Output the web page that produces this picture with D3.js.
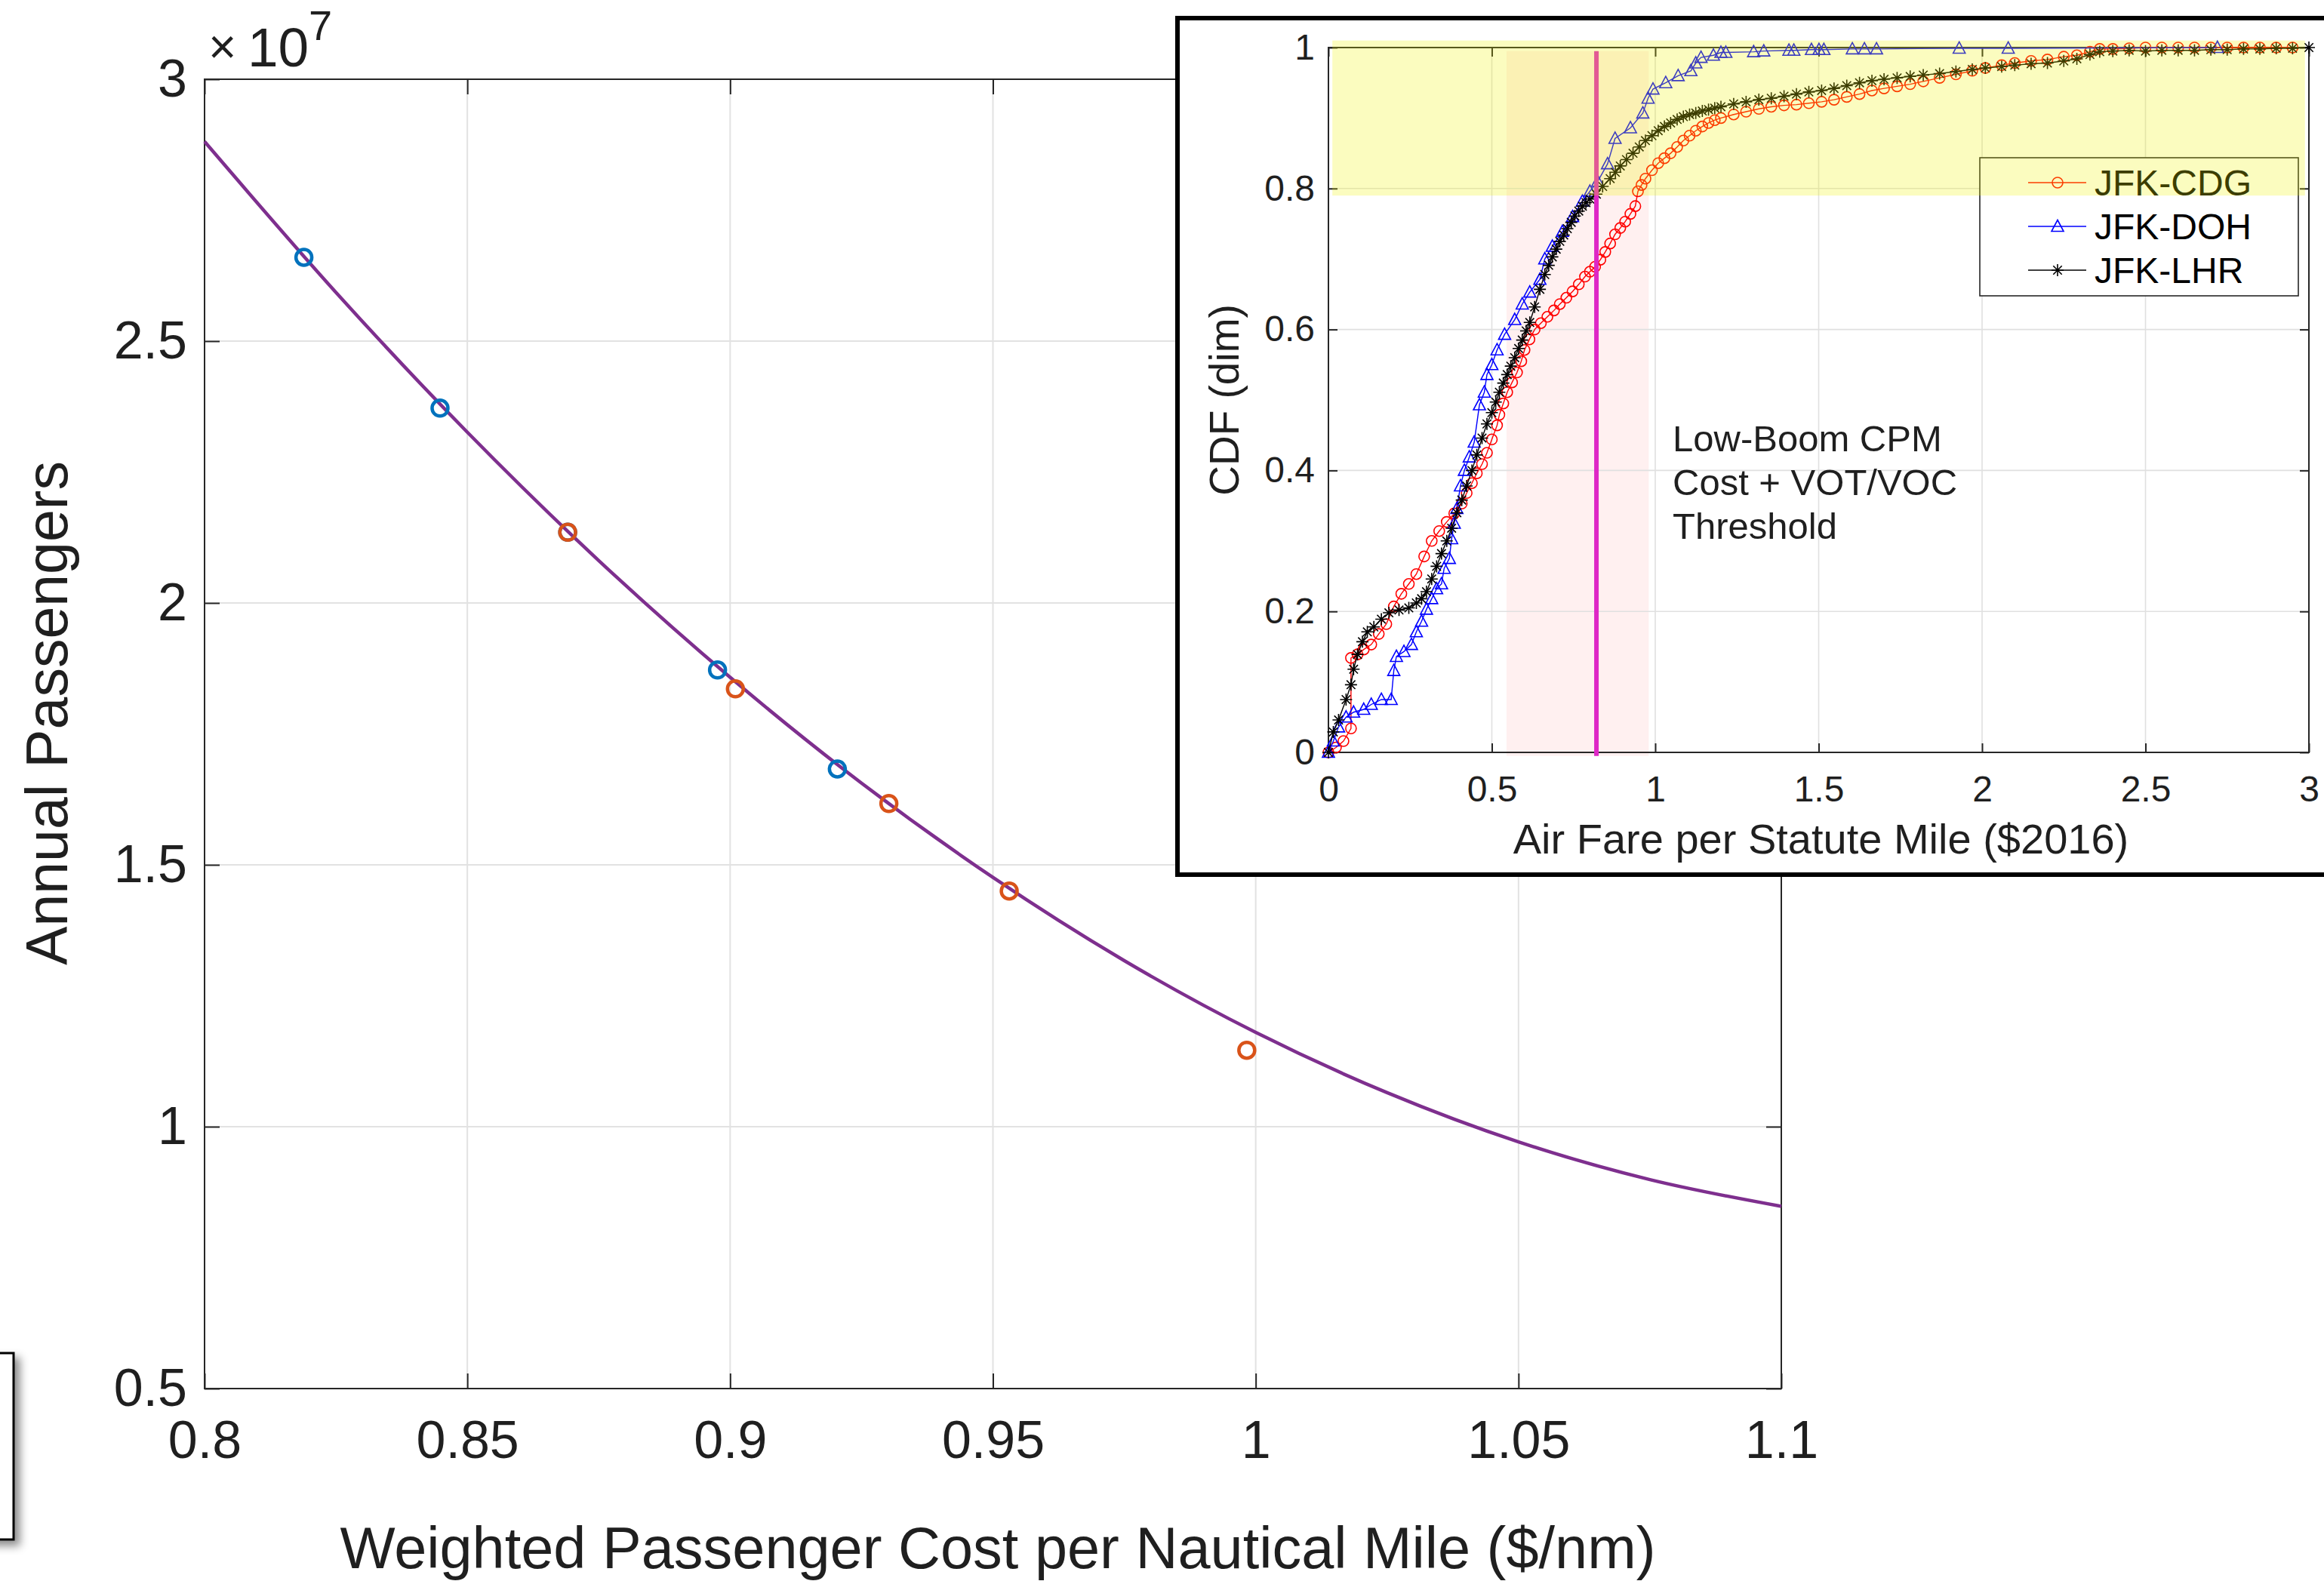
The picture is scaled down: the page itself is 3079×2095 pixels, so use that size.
<!DOCTYPE html>
<html>
<head>
<meta charset="utf-8">
<script src="https://cdn.jsdelivr.net/npm/d3@7"></script>
<style>
  html, body { margin: 0; padding: 0; background: #fff; }
  svg { display: block; }
  text { font-family: "Liberation Sans", Arial, Helvetica, sans-serif; }
</style>
</head>
<body>
<svg id="chart" width="3079" height="2095"></svg>
<script>
// ---------------- Main chart: demand curve ----------------
const costTicks = [0.8, 0.85, 0.9, 0.95, 1, 1.05, 1.1];
const costTickLabels = ["0.8", "0.85", "0.9", "0.95", "1", "1.05", "1.1"];
const paxTicks = [0.5e7, 1e7, 1.5e7, 2e7, 2.5e7, 3e7];
const paxTickLabels = ["0.5", "1", "1.5", "2", "2.5", "3"];

// fitted demand curve (cost $/nm, annual passengers)
const fitCost = [0.8, 0.825, 0.85, 0.875, 0.9, 0.925, 0.95, 0.975, 1.0, 1.025, 1.05, 1.075, 1.1];
const fitPax  = [2.881e7, 2.593e7, 2.326e7, 2.081e7, 1.858e7, 1.656e7, 1.476e7, 1.317e7, 1.180e7, 1.065e7, 0.971e7, 0.899e7, 0.848e7];

// design points
const blueCost = [0.8189, 0.8448, 0.8691, 0.8976, 0.9204];
const bluePax  = [2.660e7, 2.372e7, 2.135e7, 1.872e7, 1.683e7];
const orangeCost = [0.8691, 0.9010, 0.9302, 0.9531, 0.9983];
const orangePax  = [2.135e7, 1.836e7, 1.617e7, 1.450e7, 1.146e7];

// ---------------- Inset: air fare CDFs ----------------
const fareTicks = [0, 0.5, 1, 1.5, 2, 2.5, 3];
const fareTickLabels = ["0", "0.5", "1", "1.5", "2", "2.5", "3"];
const cdfTicks = [0, 0.2, 0.4, 0.6, 0.8, 1];
const cdfTickLabels = ["0", "0.2", "0.4", "0.6", "0.8", "1"];

const routeNames = ["JFK-CDG", "JFK-DOH", "JFK-LHR"];

// [fare per statute mile, CDF]
const cdgCdf = [
  [0,0],[0.023,0.007],[0.046,0.016],[0.069,0.034],[0.069,0.134],[0.089,0.139],[0.108,0.146],
  [0.131,0.153],[0.154,0.168],[0.177,0.182],[0.200,0.207],[0.223,0.225],[0.246,0.239],
  [0.269,0.253],[0.293,0.278],[0.316,0.300],[0.339,0.314],[0.362,0.327],[0.385,0.339],
  [0.408,0.353],[0.423,0.368],[0.439,0.382],[0.454,0.396],[0.470,0.409],[0.485,0.425],
  [0.500,0.444],[0.516,0.464],[0.523,0.479],[0.535,0.495],[0.547,0.511],[0.562,0.525],
  [0.577,0.539],[0.590,0.555],[0.600,0.571],[0.615,0.586],[0.631,0.600],[0.650,0.609],
  [0.670,0.618],[0.690,0.627],[0.708,0.636],[0.728,0.645],[0.747,0.654],[0.766,0.664],
  [0.785,0.675],[0.800,0.682],[0.816,0.689],[0.832,0.699],[0.847,0.710],[0.862,0.722],
  [0.877,0.735],[0.893,0.744],[0.908,0.753],[0.924,0.764],[0.939,0.775],[0.947,0.796],
  [0.958,0.805],[0.970,0.814],[0.990,0.826],[1.009,0.836],[1.028,0.843],[1.047,0.850],
  [1.067,0.859],[1.086,0.868],[1.105,0.875],[1.124,0.882],[1.144,0.888],[1.163,0.893],
  [1.182,0.897],[1.201,0.900],[1.240,0.905],[1.278,0.909],[1.317,0.913],[1.355,0.916],
  [1.394,0.918],[1.432,0.919],[1.470,0.921],[1.509,0.923],[1.547,0.926],[1.586,0.930],
  [1.625,0.934],[1.663,0.939],[1.700,0.942],[1.740,0.945],[1.780,0.948],[1.820,0.952],
  [1.870,0.957],[1.920,0.962],[1.970,0.967],[2.010,0.971],[2.060,0.975],[2.100,0.978],
  [2.150,0.981],[2.200,0.983],[2.250,0.987],[2.290,0.989],[2.330,0.994],[2.360,0.998],
  [2.400,0.998],[2.450,0.999],[2.500,1.000],[2.550,1.000],[2.600,1.000],[2.650,1.000],
  [2.700,1.000],[2.750,1.000],[2.800,1.000],[2.850,1.000],[2.900,1.000],[2.950,1.000]
];
const dohCdf = [
  [0,0],[0.015,0.016],[0.031,0.036],[0.054,0.050],[0.077,0.057],[0.108,0.061],[0.131,0.068],
  [0.162,0.075],[0.192,0.075],[0.200,0.116],[0.208,0.136],[0.231,0.143],[0.254,0.153],
  [0.269,0.171],[0.285,0.186],[0.300,0.203],[0.316,0.218],[0.331,0.232],[0.346,0.239],
  [0.354,0.261],[0.370,0.275],[0.377,0.303],[0.385,0.325],[0.393,0.346],[0.404,0.378],
  [0.416,0.400],[0.431,0.419],[0.446,0.440],[0.462,0.493],[0.477,0.511],[0.485,0.536],
  [0.500,0.550],[0.516,0.571],[0.539,0.593],[0.570,0.614],[0.593,0.636],[0.616,0.653],
  [0.647,0.671],[0.662,0.700],[0.685,0.718],[0.716,0.739],[0.747,0.760],[0.777,0.782],
  [0.800,0.796],[0.824,0.810],[0.854,0.835],[0.877,0.871],[0.924,0.886],[0.962,0.907],
  [0.978,0.928],[0.993,0.941],[1.032,0.950],[1.070,0.960],[1.109,0.967],[1.124,0.978],
  [1.140,0.986],[1.178,0.989],[1.201,0.993],[1.216,0.993],[1.301,0.994],[1.332,0.995],
  [1.409,0.996],[1.424,0.996],[1.478,0.997],[1.501,0.997],[1.516,0.997],[1.603,0.998],
  [1.640,0.998],[1.677,0.998],[1.930,0.999],[2.080,0.999],[2.720,1.000]
];
const lhrCdf = [
  [0,0],[0.015,0.029],[0.031,0.046],[0.054,0.075],[0.069,0.096],[0.077,0.118],[0.089,0.139],
  [0.104,0.157],[0.119,0.171],[0.139,0.178],[0.162,0.189],[0.185,0.198],[0.216,0.202],
  [0.246,0.205],[0.269,0.212],[0.285,0.218],[0.300,0.228],[0.316,0.246],[0.331,0.264],
  [0.346,0.282],[0.362,0.300],[0.377,0.318],[0.393,0.340],[0.408,0.358],[0.423,0.378],
  [0.439,0.400],[0.454,0.422],[0.470,0.446],[0.485,0.466],[0.500,0.482],[0.512,0.497],
  [0.523,0.511],[0.535,0.524],[0.547,0.536],[0.558,0.548],[0.570,0.560],[0.582,0.573],
  [0.593,0.585],[0.605,0.598],[0.616,0.610],[0.631,0.632],[0.647,0.657],[0.662,0.678],
  [0.674,0.691],[0.685,0.703],[0.697,0.714],[0.708,0.725],[0.720,0.734],[0.731,0.743],
  [0.743,0.752],[0.754,0.761],[0.766,0.768],[0.777,0.775],[0.788,0.780],[0.800,0.785],
  [0.820,0.792],[0.839,0.803],[0.862,0.814],[0.878,0.823],[0.893,0.832],[0.912,0.841],
  [0.932,0.850],[0.951,0.859],[0.970,0.868],[0.990,0.875],[1.009,0.882],[1.028,0.888],
  [1.047,0.893],[1.067,0.898],[1.086,0.902],[1.105,0.905],[1.124,0.907],[1.144,0.910],
  [1.163,0.912],[1.182,0.914],[1.201,0.916],[1.240,0.920],[1.278,0.923],[1.317,0.926],
  [1.355,0.928],[1.394,0.931],[1.432,0.934],[1.470,0.937],[1.509,0.939],[1.547,0.942],
  [1.586,0.946],[1.625,0.950],[1.663,0.953],[1.700,0.955],[1.740,0.957],[1.780,0.959],
  [1.820,0.961],[1.870,0.963],[1.920,0.966],[1.970,0.969],[2.010,0.971],[2.060,0.973],
  [2.100,0.975],[2.150,0.977],[2.200,0.978],[2.250,0.981],[2.290,0.984],[2.330,0.990],
  [2.360,0.994],[2.400,0.995],[2.450,0.996],[2.500,0.995],[2.550,0.996],[2.600,0.996],
  [2.650,0.996],[2.700,0.997],[2.750,0.997],[2.800,0.998],[2.850,0.998],[2.900,0.999],
  [2.950,0.999],[3.000,1.000]
];

// shaded regions and threshold
const fareBand = [0.545, 0.98];      // pink fare band
const fareBandCdf = [-0.005, 0.995];
const cdfBand = [0.79, 1.01];        // yellow upper-CDF band
const cdfBandFare = [0.012, 2.988];
const thresholdFare = 0.82;
const thresholdLines = ["Low-Boom CPM", "Cost + VOT/VOC", "Threshold"];

// ---------------- drawing ----------------
const FONT = '"Liberation Sans", Arial, Helvetica, sans-serif';
const INK = "#262626";
const svg = d3.select("#chart");
svg.append("rect").attr("width", 3079).attr("height", 2095).attr("fill", "#fff");

const defs = svg.append("defs");
const shadow = defs.append("filter").attr("id", "shadow")
  .attr("x", "-50%").attr("y", "-20%").attr("width", "250%").attr("height", "140%");
shadow.append("feDropShadow").attr("dx", 7).attr("dy", 7).attr("stdDeviation", 6)
  .attr("flood-color", "#000").attr("flood-opacity", 0.45);

// partly visible frame at lower left
svg.append("rect").attr("x", -20).attr("y", 1793).attr("width", 38).attr("height", 247)
  .attr("fill", "#fff").attr("stroke", "#000").attr("stroke-width", 3).attr("filter", "url(#shadow)");

function styleAxis(g, size) {
  g.attr("font-family", FONT).attr("font-size", size);
  g.select(".domain").remove();
  g.selectAll(".tick line").attr("stroke", INK).attr("stroke-width", 2);
  g.selectAll(".tick text").attr("fill", "#1f1f1f");
}

// ----- main axes -----
const M = { left: 271, right: 2360, top: 105, bottom: 1840 };
const x = d3.scaleLinear().domain([0.8, 1.1]).range([M.left, M.right]);
const y = d3.scaleLinear().domain([0.5e7, 3e7]).range([M.bottom, M.top]);
const main = svg.append("g");

main.append("g").selectAll("line").data(costTicks.slice(1, -1)).join("line")
  .attr("x1", d => x(d)).attr("x2", d => x(d)).attr("y1", M.top).attr("y2", M.bottom)
  .attr("stroke", "#e2e2e2").attr("stroke-width", 2);
main.append("g").selectAll("line").data(paxTicks.slice(1, -1)).join("line")
  .attr("y1", d => y(d)).attr("y2", d => y(d)).attr("x1", M.left).attr("x2", M.right)
  .attr("stroke", "#e2e2e2").attr("stroke-width", 2);

main.append("g").attr("transform", `translate(0,${M.bottom})`)
  .call(d3.axisBottom(x).tickValues(costTicks).tickFormat((d, i) => costTickLabels[i])
    .tickSizeInner(-20).tickSizeOuter(0).tickPadding(42))
  .call(styleAxis, 70);
main.append("g").attr("transform", `translate(0,${M.top})`)
  .call(d3.axisTop(x).tickValues(costTicks).tickFormat("").tickSizeInner(-20).tickSizeOuter(0))
  .call(styleAxis, 70);
main.append("g").attr("transform", `translate(${M.left},0)`)
  .call(d3.axisLeft(y).tickValues(paxTicks).tickFormat((d, i) => paxTickLabels[i])
    .tickSizeInner(-20).tickSizeOuter(0).tickPadding(23))
  .call(styleAxis, 70);
main.append("g").attr("transform", `translate(${M.right},0)`)
  .call(d3.axisRight(y).tickValues(paxTicks).tickFormat("").tickSizeInner(-20).tickSizeOuter(0))
  .call(styleAxis, 70);
main.append("rect").attr("x", M.left).attr("y", M.top)
  .attr("width", M.right - M.left).attr("height", M.bottom - M.top)
  .attr("fill", "none").attr("stroke", INK).attr("stroke-width", 2);

const fitLine = d3.line().x(d => x(d[0])).y(d => y(d[1])).curve(d3.curveMonotoneX);
main.append("path").datum(fitCost.map((c, i) => [c, fitPax[i]]))
  .attr("d", fitLine).attr("fill", "none").attr("stroke", "#7E2F8E").attr("stroke-width", 4.5);

main.append("g").selectAll("circle").data(blueCost.map((c, i) => [c, bluePax[i]])).join("circle")
  .attr("cx", d => x(d[0])).attr("cy", d => y(d[1])).attr("r", 10.5)
  .attr("fill", "none").attr("stroke", "#0072BD").attr("stroke-width", 4.5);
main.append("g").selectAll("circle").data(orangeCost.map((c, i) => [c, orangePax[i]])).join("circle")
  .attr("cx", d => x(d[0])).attr("cy", d => y(d[1])).attr("r", 10.5)
  .attr("fill", "none").attr("stroke", "#D95319").attr("stroke-width", 4.5);

// exponent label
main.append("text").attr("x", 276).attr("y", 84).attr("font-size", 64).attr("fill", "#1f1f1f")
  .text("\u00d7");
main.append("text").attr("x", 328).attr("y", 88).attr("font-size", 73).attr("fill", "#1f1f1f")
  .text("10");
main.append("text").attr("x", 409).attr("y", 53).attr("font-size", 56).attr("fill", "#1f1f1f")
  .text("7");

main.append("text").attr("x", 1322).attr("y", 2078).attr("text-anchor", "middle")
  .attr("font-size", 77.5).attr("fill", "#1f1f1f")
  .text("Weighted Passenger Cost per Nautical Mile ($/nm)");
main.append("text").attr("transform", "translate(89,945) rotate(-90)").attr("text-anchor", "middle")
  .attr("font-size", 77).attr("fill", "#1f1f1f").text("Annual Passengers");

// ----- inset -----
const I = { left: 1760, right: 3059, top: 63, bottom: 997 };
const xi = d3.scaleLinear().domain([0, 3]).range([I.left, I.right]);
const yi = d3.scaleLinear().domain([0, 1]).range([I.bottom, I.top]);
const inset = svg.append("g");

inset.append("rect").attr("x", 1560).attr("y", 24).attr("width", 1600).attr("height", 1135)
  .attr("fill", "#fff").attr("stroke", "#000").attr("stroke-width", 6);

inset.append("rect")
  .attr("x", xi(fareBand[0])).attr("width", xi(fareBand[1]) - xi(fareBand[0]))
  .attr("y", yi(fareBandCdf[1])).attr("height", yi(fareBandCdf[0]) - yi(fareBandCdf[1]))
  .attr("fill", "#ff0000").attr("fill-opacity", 0.06);

inset.append("g").selectAll("line").data(fareTicks.slice(1, -1)).join("line")
  .attr("x1", d => xi(d)).attr("x2", d => xi(d)).attr("y1", I.top).attr("y2", I.bottom)
  .attr("stroke", "#e0e0e0").attr("stroke-width", 1.6);
inset.append("g").selectAll("line").data(cdfTicks.slice(1, -1)).join("line")
  .attr("y1", d => yi(d)).attr("y2", d => yi(d)).attr("x1", I.left).attr("x2", I.right)
  .attr("stroke", "#e0e0e0").attr("stroke-width", 1.6);

inset.append("g").attr("transform", `translate(0,${I.bottom})`)
  .call(d3.axisBottom(xi).tickValues(fareTicks).tickFormat((d, i) => fareTickLabels[i])
    .tickSizeInner(-12).tickSizeOuter(0).tickPadding(31))
  .call(styleAxis, 48);
inset.append("g").attr("transform", `translate(0,${I.top})`)
  .call(d3.axisTop(xi).tickValues(fareTicks).tickFormat("").tickSizeInner(-12).tickSizeOuter(0))
  .call(styleAxis, 48);
inset.append("g").attr("transform", `translate(${I.left},0)`)
  .call(d3.axisLeft(yi).tickValues(cdfTicks).tickFormat((d, i) => cdfTickLabels[i])
    .tickSizeInner(-12).tickSizeOuter(0).tickPadding(18))
  .call(styleAxis, 48);
inset.append("g").attr("transform", `translate(${I.right},0)`)
  .call(d3.axisRight(yi).tickValues(cdfTicks).tickFormat("").tickSizeInner(-12).tickSizeOuter(0))
  .call(styleAxis, 48);
inset.append("rect").attr("x", I.left).attr("y", I.top)
  .attr("width", I.right - I.left).attr("height", I.bottom - I.top)
  .attr("fill", "none").attr("stroke", INK).attr("stroke-width", 2);

// marker shapes
const markerPath = {
  circle: "M7,0A7,7 0 1,1 -7,0A7,7 0 1,1 7,0Z",
  triangle: "M0,-8.5L8,6.5L-8,6.5Z",
  star: "M0,-8L0,8M-8,0L8,0M-5.7,-5.7L5.7,5.7M-5.7,5.7L5.7,-5.7"
};
const series = [
  { name: routeNames[0], data: cdgCdf, color: "#ff0000", marker: "circle" },
  { name: routeNames[1], data: dohCdf, color: "#0000ff", marker: "triangle" },
  { name: routeNames[2], data: lhrCdf, color: "#000000", marker: "star" }
];
const cdfLine = d3.line().x(d => xi(d[0])).y(d => yi(d[1]));
series.forEach(s => {
  const g = inset.append("g");
  g.append("path").datum(s.data).attr("d", cdfLine)
    .attr("fill", "none").attr("stroke", s.color).attr("stroke-width", 1.4);
  g.selectAll("path.m").data(s.data).join("path").attr("class", "m")
    .attr("transform", d => `translate(${xi(d[0])},${yi(d[1])})`)
    .attr("d", markerPath[s.marker])
    .attr("fill", "none").attr("stroke", s.color).attr("stroke-width", 1.6);
});

// threshold line
inset.append("line")
  .attr("x1", xi(thresholdFare)).attr("x2", xi(thresholdFare))
  .attr("y1", yi(fareBandCdf[1])).attr("y2", yi(fareBandCdf[0]))
  .attr("stroke", "#DE27C6").attr("stroke-width", 6);

inset.append("text").attr("x", 2216).attr("y", 598).attr("font-size", 49).attr("fill", "#1f1f1f")
  .selectAll("tspan").data(thresholdLines).join("tspan")
  .attr("x", 2216).attr("dy", (d, i) => i === 0 ? 0 : 58).text(d => d);

// legend
const L = { x: 2623, y: 209, w: 422, h: 183 };
const lg = inset.append("g");
lg.append("rect").attr("x", L.x).attr("y", L.y).attr("width", L.w).attr("height", L.h)
  .attr("fill", "#fff").attr("stroke", INK).attr("stroke-width", 1.6);
series.forEach((s, i) => {
  const cy = 242 + i * 58;
  lg.append("line").attr("x1", 2687).attr("x2", 2764).attr("y1", cy).attr("y2", cy)
    .attr("stroke", s.color).attr("stroke-width", 1.4);
  lg.append("path").attr("transform", `translate(2726,${cy})`).attr("d", markerPath[s.marker])
    .attr("fill", "none").attr("stroke", s.color).attr("stroke-width", 1.6);
  lg.append("text").attr("x", 2775).attr("y", cy + 17).attr("font-size", 48).attr("fill", "#000")
    .text(s.name);
});

// translucent yellow band for the upper CDF range
inset.append("rect")
  .attr("x", xi(cdfBandFare[0])).attr("width", xi(cdfBandFare[1]) - xi(cdfBandFare[0]))
  .attr("y", yi(cdfBand[1])).attr("height", yi(cdfBand[0]) - yi(cdfBand[1]))
  .attr("fill", "#f0f500").attr("fill-opacity", 0.25);

inset.append("text").attr("x", (I.left + I.right) / 2 + 3).attr("y", 1131).attr("text-anchor", "middle")
  .attr("font-size", 56).attr("fill", "#1f1f1f").text("Air Fare per Statute Mile ($2016)");
inset.append("text").attr("transform", "translate(1641,530) rotate(-90)").attr("text-anchor", "middle")
  .attr("font-size", 55).attr("fill", "#1f1f1f").text("CDF (dim)");
</script>
</body>
</html>
